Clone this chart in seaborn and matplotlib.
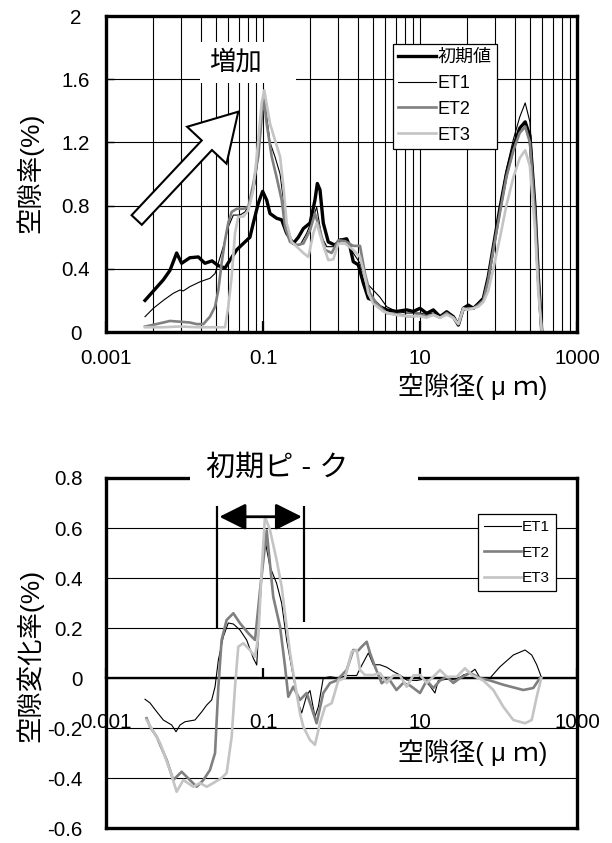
import matplotlib
matplotlib.use("Agg")
import matplotlib.pyplot as plt
import seaborn as sns
import pandas as pd
from matplotlib.patches import Rectangle, FancyArrow
from matplotlib.ticker import FixedLocator, FixedFormatter, NullFormatter, NullLocator

# ---------------- data ----------------
INIT_X = [0.00314, 0.00537, 0.00653, 0.00794, 0.0092, 0.0117, 0.0150, 0.0182, 0.0224, 0.0269,
          0.0328, 0.0380, 0.0462, 0.0589, 0.0682, 0.0753, 0.0871, 0.099, 0.1114, 0.1227,
          0.149, 0.173, 0.200, 0.243, 0.282, 0.327, 0.398, 0.459, 0.492, 0.532,
          0.586, 0.679, 0.826, 0.957, 1.164, 1.282, 1.413, 1.637, 1.897, 2.198,
          2.541, 3.09, 3.767, 5.01, 6.76, 8.22, 10.0, 12.16, 14.79, 17.99,
          21.88, 26.6, 30.8, 35.6, 41.3, 47.9, 55.3, 64.1, 74.1, 85.9,
          104.7, 125.9, 154.9, 186.2, 218.8, 251.2, 291.7, 321.4, 354.8]
INIT_Y = [0.20, 0.33, 0.39, 0.50, 0.435, 0.47, 0.475, 0.435, 0.45, 0.42,
          0.405, 0.455, 0.52, 0.57, 0.60, 0.69, 0.815, 0.89, 0.835, 0.75,
          0.72, 0.71, 0.625, 0.56, 0.60, 0.655, 0.69, 0.835, 0.94, 0.90,
          0.69, 0.57, 0.55, 0.58, 0.59, 0.54, 0.445, 0.425, 0.31, 0.213,
          0.20, 0.16, 0.14, 0.13, 0.14, 0.13, 0.15, 0.118, 0.14, 0.097,
          0.128, 0.097, 0.044, 0.15, 0.17, 0.15, 0.18, 0.213, 0.35, 0.54,
          0.79, 1.00, 1.17, 1.29, 1.33, 1.24, 0.79, 0.35, 0.01]

ET1_X = [0.00314, 0.00401, 0.00537, 0.00719, 0.00877, 0.00966, 0.0117, 0.0158, 0.0211, 0.0245,
         0.0269, 0.0312, 0.0361, 0.0419, 0.0509, 0.0589, 0.0682, 0.0794, 0.0916, 0.101,
         0.106, 0.1227, 0.142, 0.165, 0.182, 0.200, 0.243, 0.296, 0.360, 0.438,
         0.483, 0.560, 0.649, 0.787, 0.957, 1.164, 1.413, 1.722, 2.094, 2.541,
         3.09, 3.767, 5.01, 6.76, 8.22, 10.0, 12.16, 14.79, 17.99, 21.88,
         26.6, 30.8, 35.6, 41.3, 47.9, 55.3, 64.1, 74.1, 85.9, 104.7,
         125.9, 154.9, 186.2, 218.8, 251.2, 291.7, 321.4, 354.8]
ET1_Y = [0.097, 0.15, 0.20, 0.245, 0.266, 0.26, 0.287, 0.318, 0.34, 0.37,
         0.435, 0.54, 0.665, 0.74, 0.74, 0.76, 0.815, 0.94, 1.215, 1.48,
         1.45, 1.20, 1.11, 1.00, 0.835, 0.645, 0.56, 0.55, 0.625, 0.73,
         0.79, 0.60, 0.54, 0.54, 0.59, 0.58, 0.50, 0.435, 0.31, 0.265,
         0.22, 0.16, 0.13, 0.12, 0.12, 0.12, 0.11, 0.12, 0.10, 0.115,
         0.10, 0.06, 0.14, 0.16, 0.15, 0.17, 0.20, 0.34, 0.55, 0.80,
         1.03, 1.22, 1.36, 1.45, 1.33, 0.82, 0.35, 0.01]

ET2_X = [0.00314, 0.00537, 0.00653, 0.00877, 0.0117, 0.0143, 0.0174, 0.0211, 0.0245, 0.0270,
         0.0297, 0.0328, 0.0361, 0.0399, 0.0462, 0.0561, 0.0650, 0.0753, 0.0871, 0.0991,
         0.1028, 0.1114, 0.129, 0.149, 0.173, 0.191, 0.221, 0.269, 0.327, 0.398,
         0.459, 0.532, 0.617, 0.750, 0.910, 1.109, 1.413, 1.722, 1.99, 2.307,
         2.805, 3.767, 5.56, 6.76, 8.22, 10.0, 12.16, 14.79, 17.99, 21.88,
         26.6, 30.8, 35.6, 41.3, 47.9, 55.3, 64.1, 74.1, 85.9, 104.7,
         125.9, 154.9, 186.2, 218.8, 251.2, 291.7, 321.4, 354.8]
ET2_Y = [0.034, 0.06, 0.07, 0.065, 0.06, 0.05, 0.05, 0.097, 0.16, 0.266,
         0.435, 0.58, 0.69, 0.76, 0.78, 0.78, 0.79, 0.94, 1.11, 1.43,
         1.47, 1.32, 1.11, 0.98, 0.835, 0.665, 0.57, 0.55, 0.56, 0.645,
         0.75, 0.645, 0.52, 0.50, 0.58, 0.575, 0.545, 0.545, 0.37, 0.245,
         0.18, 0.12, 0.11, 0.10, 0.10, 0.11, 0.10, 0.11, 0.09, 0.12,
         0.09, 0.05, 0.14, 0.15, 0.15, 0.17, 0.20, 0.33, 0.52, 0.76,
         0.98, 1.15, 1.26, 1.30, 1.20, 0.75, 0.32, 0.01]

ET3_X = [0.00314, 0.00537, 0.00877, 0.0143, 0.0211, 0.0328, 0.0361, 0.0399, 0.0440, 0.0484,
         0.0561, 0.0650, 0.0753, 0.0832, 0.0962, 0.1038, 0.1227, 0.142, 0.165, 0.182,
         0.200, 0.232, 0.269, 0.327, 0.378, 0.438, 0.483, 0.560, 0.679, 0.787,
         0.910, 1.109, 1.413, 1.722, 1.99, 2.198, 2.541, 3.41, 4.57, 6.76,
         8.22, 10.0, 12.16, 14.79, 17.99, 21.88, 26.6, 30.8, 35.6, 41.3,
         47.9, 55.3, 64.1, 74.1, 85.9, 104.7, 125.9, 154.9, 186.2, 218.8,
         251.2, 291.7, 321.4, 354.8]
ET3_Y = [0.03, 0.03, 0.035, 0.03, 0.03, 0.03, 0.16, 0.35, 0.625, 0.73,
         0.73, 0.77, 0.90, 1.11, 1.45, 1.53, 1.32, 1.215, 1.11, 0.92,
         0.69, 0.57, 0.54, 0.50, 0.475, 0.625, 0.69, 0.58, 0.455, 0.46,
         0.56, 0.56, 0.52, 0.475, 0.35, 0.245, 0.18, 0.13, 0.11, 0.10,
         0.10, 0.10, 0.09, 0.11, 0.09, 0.11, 0.09, 0.05, 0.15, 0.14,
         0.15, 0.16, 0.19, 0.26, 0.40, 0.60, 0.80, 0.98, 1.10, 1.15,
         1.05, 0.65, 0.25, 0.01]

# change-rate chart
D1_X = [0.00314, 0.00364, 0.00443, 0.00537, 0.00687, 0.0078, 0.00877, 0.01014, 0.0136, 0.0166,
        0.0192, 0.0222, 0.0245, 0.0270, 0.0312, 0.0361, 0.0419, 0.0509, 0.0619, 0.0753,
        0.0832, 0.0916, 0.101, 0.106, 0.1227, 0.149, 0.173, 0.200, 0.243, 0.282,
        0.311, 0.360, 0.397, 0.459, 0.507, 0.586, 0.714, 0.910, 1.164, 1.349,
        1.56, 1.807, 2.198, 2.541, 3.09, 3.767, 4.57, 5.56, 6.76, 9.08,
        11.0, 13.4, 15.5, 17.1, 21.88, 29.4, 35.6, 43.4, 50.2, 58.1,
        78.0, 104.5, 154.5, 217.8, 264.9, 306.9, 354.8]
D1_Y = [-0.085, -0.10, -0.135, -0.168, -0.188, -0.215, -0.188, -0.175, -0.168, -0.135,
        -0.108, -0.088, -0.035, 0.072, 0.165, 0.22, 0.216, 0.192, 0.152, 0.079,
        0.052, 0.285, 0.525, 0.552, 0.445, 0.379, 0.299, 0.152, 0.005, -0.10,
        -0.14, -0.07, -0.05, -0.155, -0.115, 0.0, 0.005, 0.0, 0.01, 0.01,
        0.01, 0.05, 0.10, 0.053, 0.053, 0.043, 0.026, 0.012, -0.008, -0.01,
        -0.005, -0.032, -0.06, -0.01, -0.005, -0.008, 0.012, 0.02, 0.035, 0.0,
        0.0, 0.045, 0.092, 0.112, 0.092, 0.053, 0.0]

D2_X = [0.00329, 0.00364, 0.00443, 0.00593, 0.00719, 0.0092, 0.0117, 0.0143, 0.0174, 0.0211,
        0.0245, 0.0270, 0.0297, 0.0344, 0.0419, 0.0509, 0.0650, 0.0791, 0.0916, 0.1114,
        0.135, 0.165, 0.191, 0.210, 0.243, 0.296, 0.360, 0.397, 0.482, 0.586,
        0.714, 0.867, 1.164, 1.413, 1.637, 1.807, 2.094, 2.307, 2.673, 3.25,
        3.95, 5.01, 6.12, 7.46, 10.0, 12.16, 14.79, 17.99, 21.88, 26.6,
        32.4, 43.4, 58.1, 78.0, 115.1, 207.0, 277.3, 338.0]
D2_Y = [-0.161, -0.195, -0.235, -0.328, -0.408, -0.375, -0.408, -0.435, -0.408, -0.368,
        -0.30, -0.035, 0.152, 0.232, 0.259, 0.219, 0.179, 0.152, 0.35, 0.59,
        0.325, 0.205, 0.045, -0.075, -0.035, -0.088, -0.06, -0.10, -0.181, -0.06,
        -0.02, -0.01, 0.032, 0.112, 0.11, 0.125, 0.145, 0.10, 0.045, -0.021,
        0.0, -0.048, -0.02, -0.03, -0.06, -0.01, -0.04, -0.01, 0.005, -0.02,
        0.0, 0.02, 0.0, -0.01, -0.027, -0.048, -0.04, 0.0]

D3_X = [0.00329, 0.00488, 0.00653, 0.00794, 0.00966, 0.01294, 0.01574, 0.0192, 0.0233, 0.0297,
        0.0344, 0.0399, 0.0440, 0.0484, 0.0561, 0.0682, 0.0791, 0.0871, 0.0962, 0.106,
        0.1227, 0.149, 0.173, 0.200, 0.221, 0.243, 0.296, 0.326, 0.397, 0.459,
        0.532, 0.617, 0.750, 0.910, 1.109, 1.349, 1.56, 1.722, 1.99, 2.541,
        3.09, 3.767, 4.57, 5.56, 6.76, 8.22, 10.0, 12.16, 14.79, 17.99,
        21.88, 29.4, 37.4, 45.5, 64.1, 85.9, 115.1, 154.5, 217.8, 264.9,
        306.9, 350.8]
D3_Y = [-0.168, -0.26, -0.368, -0.455, -0.408, -0.435, -0.42, -0.435, -0.42, -0.40,
        -0.38, -0.235, -0.035, 0.125, 0.139, 0.112, 0.085, 0.165, 0.432, 0.645,
        0.592, 0.472, 0.365, 0.205, 0.10, 0.019, -0.141, -0.195, -0.248, -0.267,
        -0.181, -0.115, -0.101, -0.01, 0.0, 0.105, 0.112, 0.032, 0.012, 0.012,
        0.02, -0.02, 0.01, 0.01, -0.035, 0.01, 0.012, -0.02, 0.005, 0.032,
        0.005, 0.005, 0.039, 0.012, -0.01, -0.048, -0.115, -0.168, -0.181, -0.168,
        -0.075, 0.0]

X_TICKS = [0.001, 0.1, 10, 1000]
X_TICK_LABELS = ["0.001", "0.1", "10", "1000"]
GRID_MULT = [4, 9, 16, 25, 36, 49, 64, 81]
TOP_YTICKS = [0, 0.4, 0.8, 1.2, 1.6, 2.0]
TOP_YTICK_LABELS = ["0", "0.4", "0.8", "1.2", "1.6", "2"]
BOT_YTICKS = [-0.6, -0.4, -0.2, 0, 0.2, 0.4, 0.6, 0.8]
BOT_YTICK_LABELS = ["-0.6", "-0.4", "-0.2", "0", "0.2", "0.4", "0.6", "0.8"]
PEAK_RANGE = (0.0262, 0.333)

# ---------------- style ----------------
FAMILY = ['Liberation Sans', 'Noto Sans CJK JP', 'DejaVu Sans']
plt.rcParams['font.family'] = FAMILY
plt.rcParams['axes.unicode_minus'] = False

W, H = 612, 843
fig = plt.figure(figsize=(W / 100, H / 100), dpi=100)


def fx(px):
    return px / W


def fy(py):
    return 1 - py / H


L, R = 106, 577
ax1 = fig.add_axes([fx(L), fy(332), fx(R) - fx(L), fy(16) - fy(332)])
ax2 = fig.add_axes([fx(L), fy(828), fx(R) - fx(L), fy(478) - fy(828)])

TS = 14.8  # tick font size

# ---------------- top chart ----------------
top = [("初期値", INIT_X, INIT_Y, "black", 2.4),
       ("ET1", ET1_X, ET1_Y, "black", 0.8),
       ("ET2", ET2_X, ET2_Y, "#808080", 1.9),
       ("ET3", ET3_X, ET3_Y, "#c4c4c4", 1.9)]
for name, xs, ys, c, lw in top:
    sns.lineplot(data=pd.DataFrame({"x": xs, "y": ys}), x="x", y="y", ax=ax1,
                 color=c, linewidth=lw, label=name, estimator=None, sort=False)

ax1.set_xscale('log')
ax1.set_xlim(0.001, 1000)
ax1.set_ylim(0, 2)
ax1.set_xlabel("")
ax1.set_ylabel("")
minor = [m * k for m in X_TICKS[:-1] for k in GRID_MULT]
ax1.xaxis.set_major_locator(FixedLocator(X_TICKS))
ax1.xaxis.set_major_formatter(FixedFormatter(X_TICK_LABELS))
ax1.xaxis.set_minor_locator(FixedLocator(minor))
ax1.xaxis.set_minor_formatter(NullFormatter())
ax1.yaxis.set_major_locator(FixedLocator(TOP_YTICKS))
ax1.yaxis.set_major_formatter(FixedFormatter(TOP_YTICK_LABELS))
ax1.tick_params(axis='x', which='major', direction='in', length=8, width=1.6,
                pad=12, labelsize=TS, bottom=True, top=False, colors='black')
ax1.tick_params(axis='x', which='minor', length=0)
ax1.tick_params(axis='y', direction='in', length=6, width=1, pad=21.6,
                labelsize=TS, left=True, colors='black')
for lbl in ax1.get_yticklabels():
    lbl.set_horizontalalignment('center')
ax1.set_axisbelow(True)
ax1.grid(True, which='both', axis='x', color='black', linewidth=0.8)
ax1.grid(True, which='major', axis='y', color='black', linewidth=0.8)
for s in ax1.spines.values():
    s.set_linewidth(2.4)
    s.set_color('black')

leg1 = ax1.legend(loc='upper left', bbox_to_anchor=((393 - L) / (R - L), (332 - 44) / 316),
                  borderaxespad=0, prop={'family': FAMILY, 'size': 13},
                  handlelength=2.1, handletextpad=0.1, labelspacing=0.49,
                  borderpad=0.28, fancybox=False, framealpha=1, edgecolor='black')
leg1.get_frame().set_linewidth(0.9)

# "増加" label box and block arrow
fig.add_artist(Rectangle((fx(200), fy(83)), fx(296) - fx(200), fy(42) - fy(83),
                         transform=fig.transFigure, facecolor='white',
                         edgecolor='none', zorder=10))
fig.text(fx(235), fy(62), "増加", fontsize=19, ha='center', va='center', zorder=11)
fig.add_artist(FancyArrow(1.367, (H - 220) / 100, 1.016, 1.083, width=0.14,
                          head_width=0.54, head_length=0.46, length_includes_head=True,
                          transform=fig.dpi_scale_trans, facecolor='white',
                          edgecolor='black', linewidth=1.5, zorder=10))

# ---------------- bottom chart ----------------
bot = [("ET1", D1_X, D1_Y, "black", 0.8),
       ("ET2", D2_X, D2_Y, "#808080", 1.9),
       ("ET3", D3_X, D3_Y, "#c4c4c4", 1.9)]
for name, xs, ys, c, lw in bot:
    sns.lineplot(data=pd.DataFrame({"x": xs, "y": ys}), x="x", y="y", ax=ax2,
                 color=c, linewidth=lw, label=name, estimator=None, sort=False)

ax2.set_xscale('log')
ax2.set_xlim(0.001, 1000)
ax2.set_ylim(-0.6, 0.8)
ax2.set_xlabel("")
ax2.set_ylabel("")
ax2.xaxis.set_major_locator(NullLocator())
ax2.xaxis.set_minor_locator(NullLocator())
ax2.yaxis.set_major_locator(FixedLocator(BOT_YTICKS))
ax2.yaxis.set_major_formatter(FixedFormatter(BOT_YTICK_LABELS))
ax2.tick_params(axis='y', direction='in', length=0, pad=17, labelsize=TS,
                left=True, colors='black')
ax2.set_axisbelow(True)
ax2.grid(True, which='major', axis='y', color='black', linewidth=0.8)
for s in ax2.spines.values():
    s.set_linewidth(2.4)
    s.set_color('black')

sec = ax2.secondary_xaxis(0, transform=ax2.transData)
sec.xaxis.set_major_locator(FixedLocator(X_TICKS))
sec.xaxis.set_major_formatter(FixedFormatter(X_TICK_LABELS))
sec.xaxis.set_minor_locator(NullLocator())
sec.tick_params(axis='x', direction='in', length=7, width=1.6, pad=25,
                labelsize=TS, colors='black')
sec.spines['bottom'].set_linewidth(1.7)
sec.spines['bottom'].set_color('black')

# initial peak range marker
ax2.vlines(PEAK_RANGE[0], 0.2, 0.69, color='black', linewidth=1.6)
ax2.vlines(PEAK_RANGE[1], 0.225, 0.69, color='black', linewidth=1.6)
ax2.annotate("", xy=(PEAK_RANGE[1], 0.645), xytext=(PEAK_RANGE[0], 0.645),
             arrowprops=dict(arrowstyle='<|-|>,head_length=0.9,head_width=0.45',
                             color='black', lw=2, mutation_scale=18,
                             shrinkA=1.5, shrinkB=1.5))

leg2 = ax2.legend(loc='upper left', bbox_to_anchor=((478 - L) / (R - L), (828 - 514) / 350),
                  borderaxespad=0, prop={'family': FAMILY, 'size': 11},
                  handlelength=2.4, handletextpad=0.1, labelspacing=0.76,
                  borderpad=0.39, fancybox=False, framealpha=1, edgecolor='black')
leg2.get_frame().set_linewidth(0.9)

# title box interrupting the top border
fig.add_artist(Rectangle((fx(190), fy(484)), fx(418) - fx(190), fy(452) - fy(484),
                         transform=fig.transFigure, facecolor='white',
                         edgecolor='none', zorder=10))
fig.text(fx(277), fy(468), "初期ピ - ク", fontsize=21, ha='center', va='center', zorder=11)

# axis titles
XLAB = "空隙径( μ ｍ)"
fig.text(fx(473), fy(387), XLAB, fontsize=18.5, ha='center', va='center')
fig.text(fx(473), fy(753), XLAB, fontsize=18.5, ha='center', va='center')
fig.text(fx(30), fy(173), "空隙率(%)", fontsize=19, rotation=90, ha='center', va='center')
fig.text(fx(30), fy(655), "空隙変化率(%)", fontsize=19, rotation=90, ha='center', va='center')

fig.savefig("out.png", dpi=100)
